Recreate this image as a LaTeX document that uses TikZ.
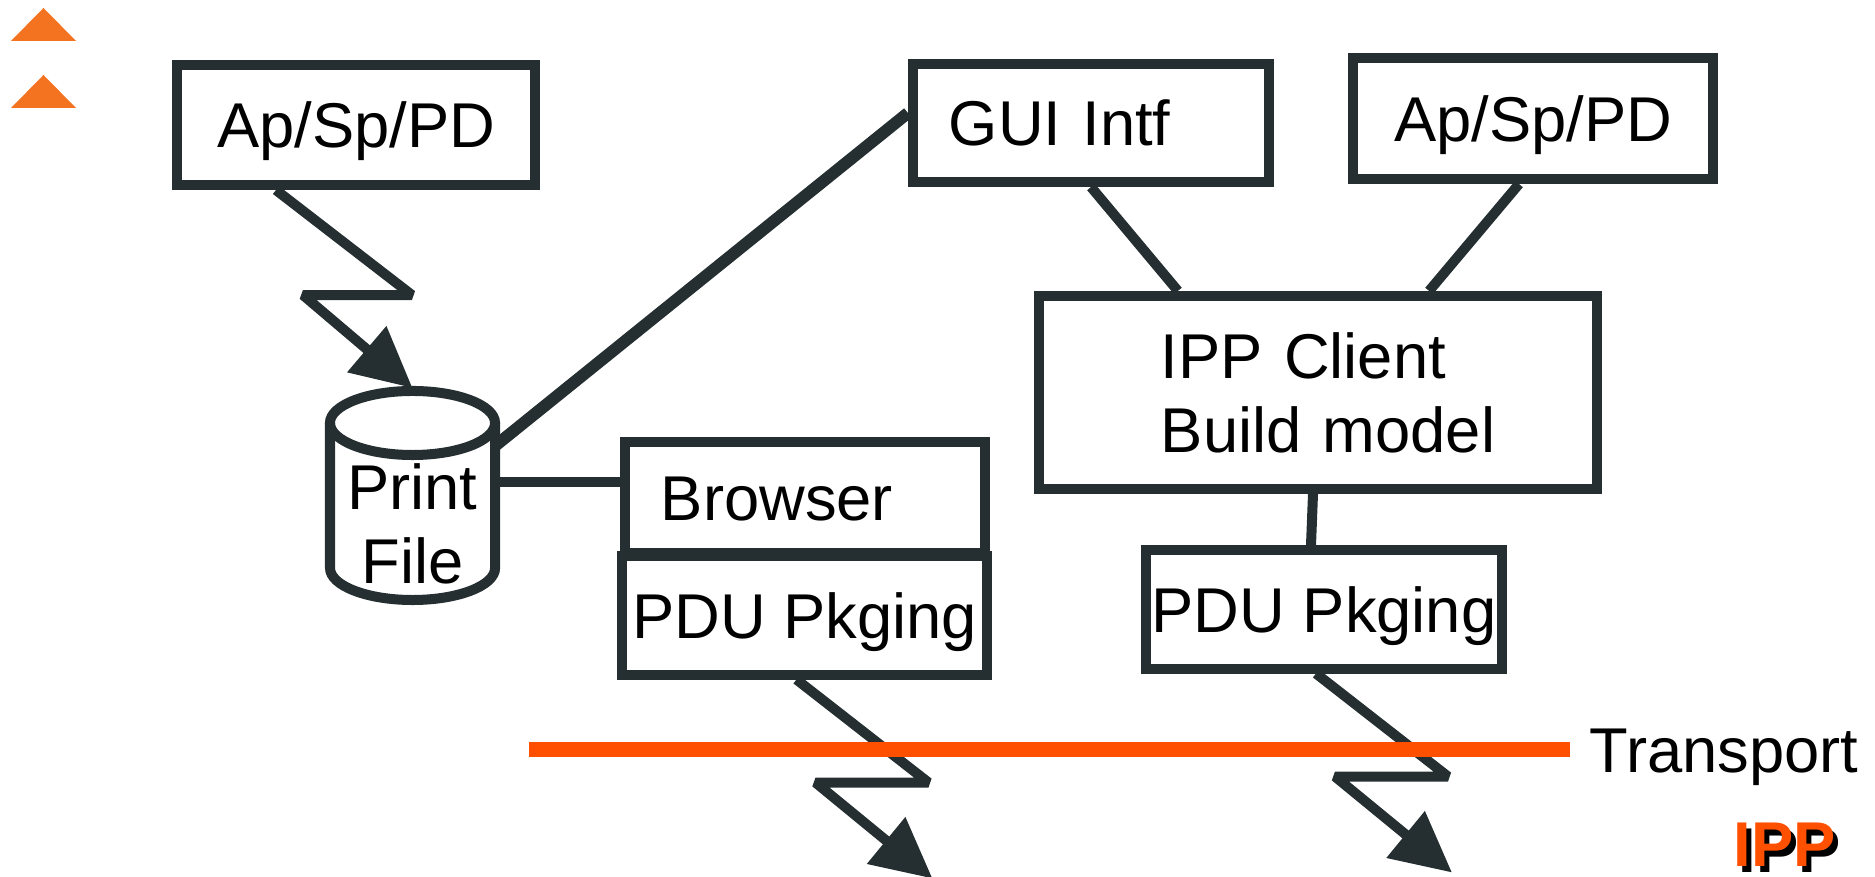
\documentclass[tikz,border=0pt]{standalone}
\usepackage{fontspec}
\setmainfont{Liberation Sans}
\usepackage{xcolor}
\usetikzlibrary{calc, arrows.meta}

\definecolor{boxgray}{RGB}{37,47,49}
\definecolor{bulletorange}{RGB}{244,115,33}
\definecolor{transportorange}{RGB}{255,80,0}

\tikzset{
	box/.style 2 args = {draw = boxgray, line width = 0.1cm, minimum width = #1, minimum height = #2, inner sep = 0pt, font = \fontsize{18}{21}\selectfont},
	oneline/.style = {text height = 16.7pt, text depth = 3.8pt},
	link/.style = {draw = boxgray, line width = 0.1cm},
	zigzag/.style = {link, line join = bevel, -{Triangle[length = 0.6cm, width = 0.58cm]}}
}

\begin{document}
\begin{tikzpicture}[x = 0.01cm, y = -0.01cm]
	%picture size
	\useasboundingbox (0,0) rectangle (1875,877);
	
	%bullets
	\fill [bulletorange] (11,41) -- (43.5,8) -- (76,41) -- cycle;
	\fill [bulletorange] (11,108) -- (43.5,75) -- (76,108) -- cycle;
	
	%boxes
	\node [box = {3.58cm}{1.20cm}, oneline] (apL) at (356,125) {Ap/Sp/PD};
	\node [box = {3.56cm}{1.18cm}, oneline, align = left, text width = 2.84cm] (gui) at (1091,123) {GUI Intf};
	\node [box = {3.59cm}{1.21cm}, oneline] (apR) at (1533,118.5) {Ap/Sp/PD};
	\node [box = {5.58cm}{1.93cm}, align = left, text width = 3.14cm] (client) at (1318,392.5) {IPP Client\\Build~model};
	\node [box = {3.60cm}{1.11cm}, oneline, align = left, text width = 2.88cm] (browser) at (805,497.5) {Browser};
	\node [box = {3.64cm}{1.18cm}, oneline] (pduL) at (804.5,615.5) {PDU Pkging};
	\node [box = {3.55cm}{1.18cm}, oneline] (pduR) at (1324,609.5) {PDU Pkging};
	
	%print file
	\def\fileL{330}
	\def\fileR{495}
	\def\fileTop{423}
	\def\fileBot{568}
	\draw [link] (\fileL,\fileTop) -- (\fileL,\fileBot) arc [start angle = 180, end angle = 360, x radius = 0.825cm, y radius = 0.32cm] -- (\fileR,\fileTop);
	\draw [link] (412.5,\fileTop) ellipse [x radius = 0.825cm, y radius = 0.32cm];
	\node [align = center, inner sep = 0pt, font = \fontsize{18}{21}\selectfont] (file) at (412.5,524) {Print\\File};
	\coordinate (filetop) at (412.5,388);
	\coordinate (fileside) at (\fileR,446);
	
	%links
	\draw [link, line width = 0.12cm] ([yshift = 0.1cm]gui.west) -- (fileside);
	\coordinate (browserlink) at ([yshift = 0.15cm]browser.west);
	\draw [link] (browserlink) -- (browserlink -| fileside);
	\draw [link] (gui.south) -- ([xshift = -1.4cm]client.north);
	\draw [link] ([xshift = -0.14cm]apR.south) -- ([xshift = 1.11cm]client.north);
	\draw [link] ([xshift = -0.05cm]client.south) -- ([xshift = -0.13cm]pduR.north);
	
	%zigzag arrows
	\draw [zigzag] ([xshift = -0.8cm]apL.south) -- ++(136,105) -- ++(-109,0) -- (filetop);
	\draw [zigzag] ([xshift = -0.08cm]pduL.south) -- ++(132,103) -- ++(-113,0) -- ++(117,96);
	\draw [zigzag] ([xshift = -0.08cm]pduR.south) -- ++(132,103) -- ++(-113,0) -- ++(117,96);
	
	%transport
	\coordinate (tleft) at (529,750);
	\coordinate (tright) at (1570,750);
	\draw [transportorange, line width = 0.15cm] (tleft) -- (tright);
	\node [right = 0.19cm, inner sep = 0pt, oneline, font = \fontsize{18}{21}\selectfont] (transport) at (tright) {Transport};
	
	%logo
	\node [anchor = base west, inner sep = 0pt, font = \fontsize{18}{21}\bfseries] (ippshadow) at (1738,873) {IPP};
	\node [anchor = base west, inner sep = 0pt, font = \fontsize{18}{21}\bfseries, transportorange] (ipp) at (1733,867) {IPP};
\end{tikzpicture}
\end{document}
